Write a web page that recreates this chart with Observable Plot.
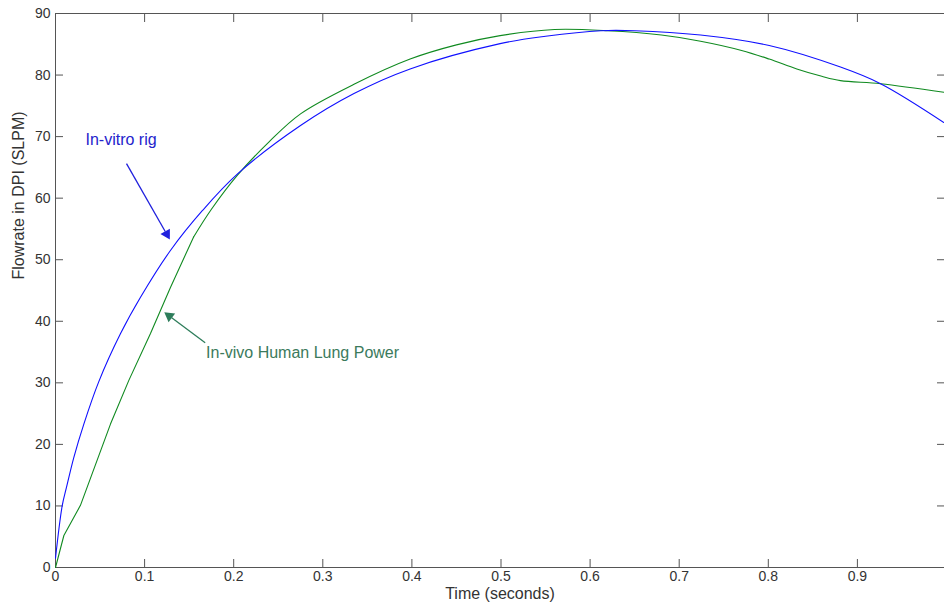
<!DOCTYPE html>
<html>
<head>
<meta charset="utf-8">
<script src="https://cdn.jsdelivr.net/npm/d3@7"></script>
<script src="https://cdn.jsdelivr.net/npm/@observablehq/plot@0.6"></script>
<style>
  html, body { margin: 0; padding: 0; background: white; overflow: hidden; }
  svg { overflow: hidden; }
</style>
</head>
<body>
<div id="chart"></div>
<script>
// In-vitro rig (blue)
const timeVitro = [0, 0.0075, 0.0123, 0.0206, 0.0318, 0.0486, 0.073, 0.0954, 0.129, 0.165, 0.204, 0.275, 0.335, 0.398, 0.499, 0.55, 0.612, 0.65, 0.724, 0.801, 0.881, 0.926, 0.997];
const flowVitro = [1.5, 10, 13, 17.9, 23.3, 30.2, 38, 43.9, 51.5, 58, 63.9, 71.8, 77, 81.0, 85.1, 86.3, 87.2, 87.2, 86.5, 84.8, 81.3, 78.6, 72.3];

// In-vivo human lung power (green)
const timeVivo = [0, 0.0094, 0.028, 0.0617, 0.0823, 0.1066, 0.129, 0.155, 0.175, 0.204, 0.24, 0.275, 0.335, 0.398, 0.45, 0.499, 0.56, 0.62, 0.68, 0.724, 0.77, 0.801, 0.832, 0.86, 0.881, 0.926, 0.997];
const flowVivo = [0, 5.2, 10.1, 23.3, 30.4, 38, 45.5, 53.7, 58.2, 63.7, 69.2, 73.7, 78.5, 82.6, 84.9, 86.4, 87.4, 87.2, 86.5, 85.5, 84.0, 82.6, 81.0, 79.8, 79.1, 78.6, 77.2];
const vivoKnee = 0.155; // rising part drawn straight up to here

const xTicks = [0, 0.1, 0.2, 0.3, 0.4, 0.5, 0.6, 0.7, 0.8, 0.9];
const xTickLabels = ["0", "0.1", "0.2", "0.3", "0.4", "0.5", "0.6", "0.7", "0.8", "0.9"];
const yTicks = [0, 10, 20, 30, 40, 50, 60, 70, 80, 90];

// annotations (data units)
const labelNames = ["In-vitro rig", "In-vivo Human Lung Power"];
const labelX = [0.0337, 0.169];
const labelY = [69.4, 34.8];
const arrowX1 = [0.0797, 0.168];
const arrowY1 = [65.6, 36.5];
const arrowX2 = [0.129, 0.121];
const arrowY2 = [53.1, 41.6];
const annColors = ["#2424cc", "#3b7a5c"];
const arrowColors = ["#2020dd", "#2e7d5b"];

const W = 944, H = 609;
const xRange = [55, 946], yRange = [567, 13];
const xDomain = [0, 1], yDomain = [0, 90];
const pxPerX = (xRange[1] - xRange[0]) / (xDomain[1] - xDomain[0]);
const pxPerY = (yRange[0] - yRange[1]) / (yDomain[1] - yDomain[0]);

const vitro = timeVitro.map((t, i) => ({t, f: flowVitro[i]}));
const vivo = timeVivo.map((t, i) => ({t, f: flowVivo[i]}));
const vivoRise = vivo.filter(d => d.t <= vivoKnee);
const vivoRest = vivo.filter(d => d.t >= vivoKnee);
const labels = labelNames.map((name, i) => ({name, x: labelX[i], y: labelY[i], c: annColors[i]}));
const arrows = arrowX1.map((x1, i) => {
  const dxp = (arrowX2[i] - x1) * pxPerX;
  const dyp = -(arrowY2[i] - arrowY1[i]) * pxPerY;
  const len = Math.hypot(dxp, dyp);
  const ux = dxp / len, uy = dyp / len;
  const back = 7.5;
  return {
    x1, y1: arrowY1[i], x2: arrowX2[i], y2: arrowY2[i], c: arrowColors[i],
    hx: arrowX2[i] - ux * back / pxPerX,
    hy: arrowY2[i] + uy * back / pxPerY,
    sx: arrowX2[i] - ux * (back + 3) / pxPerX,
    sy: arrowY2[i] + uy * (back + 3) / pxPerY,
    angle: Math.atan2(dxp, -dyp) * 180 / Math.PI
  };
});

const axisColor = "#555";
const chart = Plot.plot({
  width: W, height: H,
  marginLeft: 55, marginTop: 13, marginBottom: 42, marginRight: 0,
  x: {domain: xDomain, range: xRange},
  y: {domain: yDomain, range: yRange},
  style: {fontFamily: "'Liberation Sans', Arial, sans-serif", fontSize: "14px", color: "#333", background: "white"},
  marks: [
    Plot.frame({stroke: axisColor}),
    Plot.axisX({anchor: "bottom", ticks: xTicks, tickSize: -8, tickPadding: 12, tickFormat: (d, i) => xTickLabels[i], label: null, stroke: axisColor, fill: "#333", fontSize: 14}),
    Plot.axisX({anchor: "top", ticks: xTicks, tickSize: -8, tickFormat: () => "", label: null, stroke: axisColor}),
    Plot.axisY({anchor: "left", ticks: yTicks, tickSize: -8, tickPadding: 13, label: null, stroke: axisColor, fill: "#333", fontSize: 14}),
    Plot.axisY({anchor: "right", ticks: yTicks, tickSize: -8, tickFormat: () => "", label: null, stroke: axisColor}),
    Plot.line(vivoRise, {x: "t", y: "f", stroke: "#108a20", strokeWidth: 1.1}),
    Plot.line(vivoRest, {x: "t", y: "f", stroke: "#108a20", strokeWidth: 1.1, curve: "catmull-rom"}),
    Plot.line(vitro, {x: "t", y: "f", stroke: "#1010ff", strokeWidth: 1.1, curve: "catmull-rom"}),
    Plot.link(arrows, {x1: "x1", y1: "y1", x2: "sx", y2: "sy", stroke: "c", strokeWidth: 1.3}),
    Plot.dot(arrows, {x: "hx", y: "hy", symbol: "triangle2", r: 5.2, fill: "c", rotate: "angle", stroke: null}),
    Plot.text(labels, {x: "x", y: "y", text: "name", fill: "c", textAnchor: "start", fontSize: 16}),
    Plot.text(["Time (seconds)"], {frameAnchor: "bottom", dy: 31, fontSize: 16, fill: "#333"}),
    Plot.text(["Flowrate in DPI (SLPM)"], {frameAnchor: "left", dx: -37, dy: -11, rotate: -90, fontSize: 16, fill: "#333"})
  ]
});
document.getElementById("chart").appendChild(chart);
</script>
</body>
</html>
